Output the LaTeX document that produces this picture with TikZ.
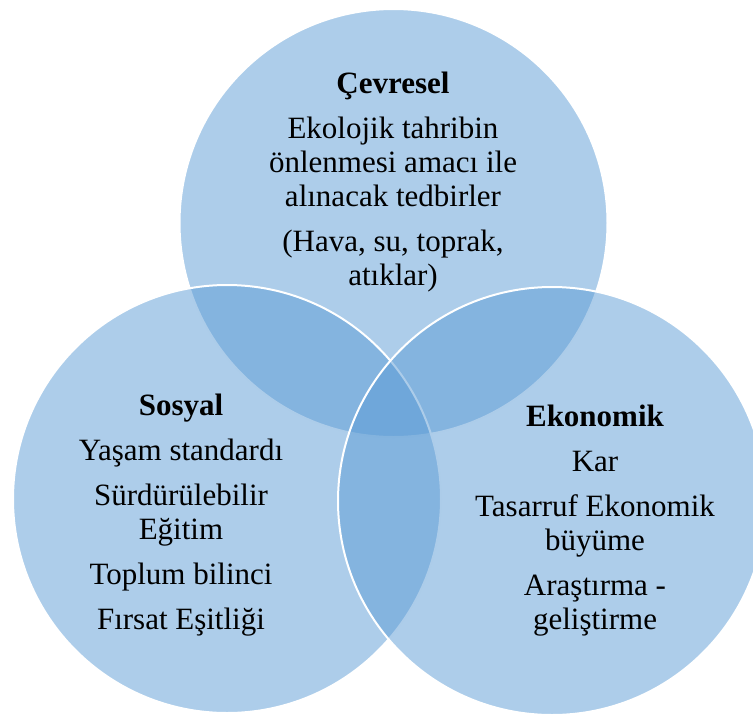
\documentclass[tikz,border=0pt]{standalone}
\usepackage{fontspec}
\setmainfont{Liberation Serif}
\usetikzlibrary{positioning}
\definecolor{vennblue}{HTML}{5B9BD5}
\newcommand{\setfont}{\fontsize{31}{34}\selectfont}

\begin{document}
\begin{tikzpicture}[x=1pt, y=-1pt,
    set/.style={circle, draw=white, line width=2pt, fill=vennblue, fill opacity=0.5,
      minimum size=428pt, inner sep=0pt},
    setlabel/.style={align=center, anchor=base, inner sep=0pt, font=\setfont}]
  \useasboundingbox (0,0) rectangle (753,716);
  % the three sets
  \node[set] (cevre) at (393.5,223) {};
  \node[set] (sosyal) at (227,499) {};
  \node[set] (ekonomi) at (552,501) {};
  % texts (anchored at the baseline of the last line)
  \node[setlabel] (cevre text) at (393,285) {\textbf{Çevresel}\\[11pt]
    Ekolojik tahribin\\ önlenmesi amacı ile\\ alınacak tedbirler\\[11pt]
    (Hava, su, toprak,\\ atıklar)};
  \node[setlabel] (sosyal text) at (181,629) {\textbf{Sosyal}\\[11pt]
    Yaşam standardı\\[11pt] Sürdürülebilir\\ Eğitim\\[11pt]
    Toplum bilinci\\[11pt] Fırsat Eşitliği};
  \node[setlabel] (ekonomi text) at (595,629) {\textbf{Ekonomik}\\[11pt]
    Kar\\[11pt] Tasarruf Ekonomik\\ büyüme\\[11pt]
    Araştırma -\\ geliştirme};
\end{tikzpicture}
\end{document}
